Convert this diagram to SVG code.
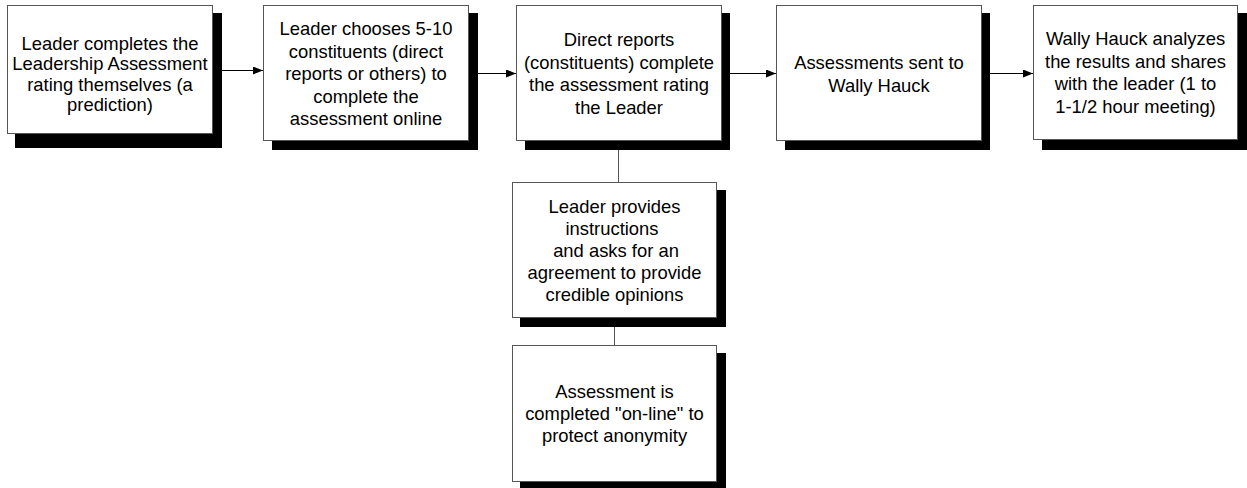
<svg xmlns="http://www.w3.org/2000/svg" width="1247" height="488" viewBox="0 0 1247 488">
<style>
.box{fill:#fff;stroke:#555;stroke-width:1}
.sh{fill:#000}
.t{font-family:"Liberation Sans",Arial,sans-serif;font-size:18.4px;fill:#000;text-anchor:middle}
.c{stroke:#000;stroke-width:1;fill:none}
.g{stroke:#555;stroke-width:1;fill:none}
</style>
<defs>
<marker id="ah" markerWidth="10" markerHeight="8" refX="10" refY="4" orient="auto" markerUnits="userSpaceOnUse">
<path d="M0,0 L10,4 L0,8 Z" fill="#000"/>
</marker>
</defs>
<g id="connectors">
<line class="c" x1="213" y1="70.5" x2="263" y2="70.5" marker-end="url(#ah)"/>
<line class="c" x1="478" y1="73.5" x2="516" y2="73.5" marker-end="url(#ah)"/>
<line class="c" x1="730" y1="73.5" x2="776" y2="73.5" marker-end="url(#ah)"/>
<line class="c" x1="990" y1="73.5" x2="1033" y2="73.5" marker-end="url(#ah)"/>
<line class="g" x1="618.5" y1="150" x2="618.5" y2="182"/>
<line class="g" x1="614.5" y1="327" x2="614.5" y2="345"/>
</g>
<g id="n1">
<rect class="sh" x="15" y="13" width="207" height="135"/>
<rect class="box" x="7.5" y="5.5" width="205" height="128"/>
<text class="t"><tspan x="110" y="49.5">Leader completes the</tspan><tspan x="110" y="70">Leadership Assessment</tspan><tspan x="110" y="90.5">rating themselves (a</tspan><tspan x="110" y="111">prediction)</tspan></text>
</g>
<g id="n2">
<rect class="sh" x="272" y="13" width="206" height="137"/>
<rect class="box" x="263.5" y="5.5" width="205" height="135"/>
<text class="t"><tspan x="366" y="35">Leader chooses 5-10</tspan><tspan x="366" y="57.5">constituents (direct</tspan><tspan x="366" y="80">reports or others) to</tspan><tspan x="366" y="102.5">complete the</tspan><tspan x="366" y="125">assessment online</tspan></text>
</g>
<g id="n3">
<rect class="sh" x="525" y="13" width="205" height="137"/>
<rect class="box" x="516.5" y="5.5" width="205" height="135"/>
<text class="t"><tspan x="619" y="46">Direct reports</tspan><tspan x="619" y="68.5">(constituents) complete</tspan><tspan x="619" y="91">the assessment rating</tspan><tspan x="619" y="113.5">the Leader</tspan></text>
</g>
<g id="n4">
<rect class="sh" x="785" y="13" width="205" height="137"/>
<rect class="box" x="776.5" y="5.5" width="205" height="135"/>
<text class="t"><tspan x="879" y="69">Assessments sent to</tspan><tspan x="879" y="91.5">Wally Hauck</tspan></text>
</g>
<g id="n5">
<rect class="sh" x="1042" y="13" width="205" height="137"/>
<rect class="box" x="1033.5" y="5.5" width="204" height="134"/>
<text class="t"><tspan x="1135.5" y="45">Wally Hauck analyzes</tspan><tspan x="1135.5" y="67.5">the results and shares</tspan><tspan x="1135.5" y="90">with the leader (1 to</tspan><tspan x="1135.5" y="112.5">1-1/2 hour meeting)</tspan></text>
</g>
<g id="n6">
<rect class="sh" x="520" y="190" width="206" height="137"/>
<rect class="box" x="512.5" y="182.5" width="204" height="135"/>
<text class="t"><tspan x="614.5" y="213">Leader provides</tspan><tspan x="612" y="235">instructions</tspan><tspan x="616" y="257">and asks for an</tspan><tspan x="614.5" y="279">agreement to provide</tspan><tspan x="614.5" y="301">credible opinions</tspan></text>
</g>
<g id="n7">
<rect class="sh" x="520" y="353" width="206" height="137"/>
<rect class="box" x="512.5" y="345.5" width="204" height="136"/>
<text class="t"><tspan x="614.5" y="398">Assessment is</tspan><tspan x="614.5" y="420">completed "on-line" to</tspan><tspan x="614.5" y="442">protect anonymity</tspan></text>
</g>
</svg>
